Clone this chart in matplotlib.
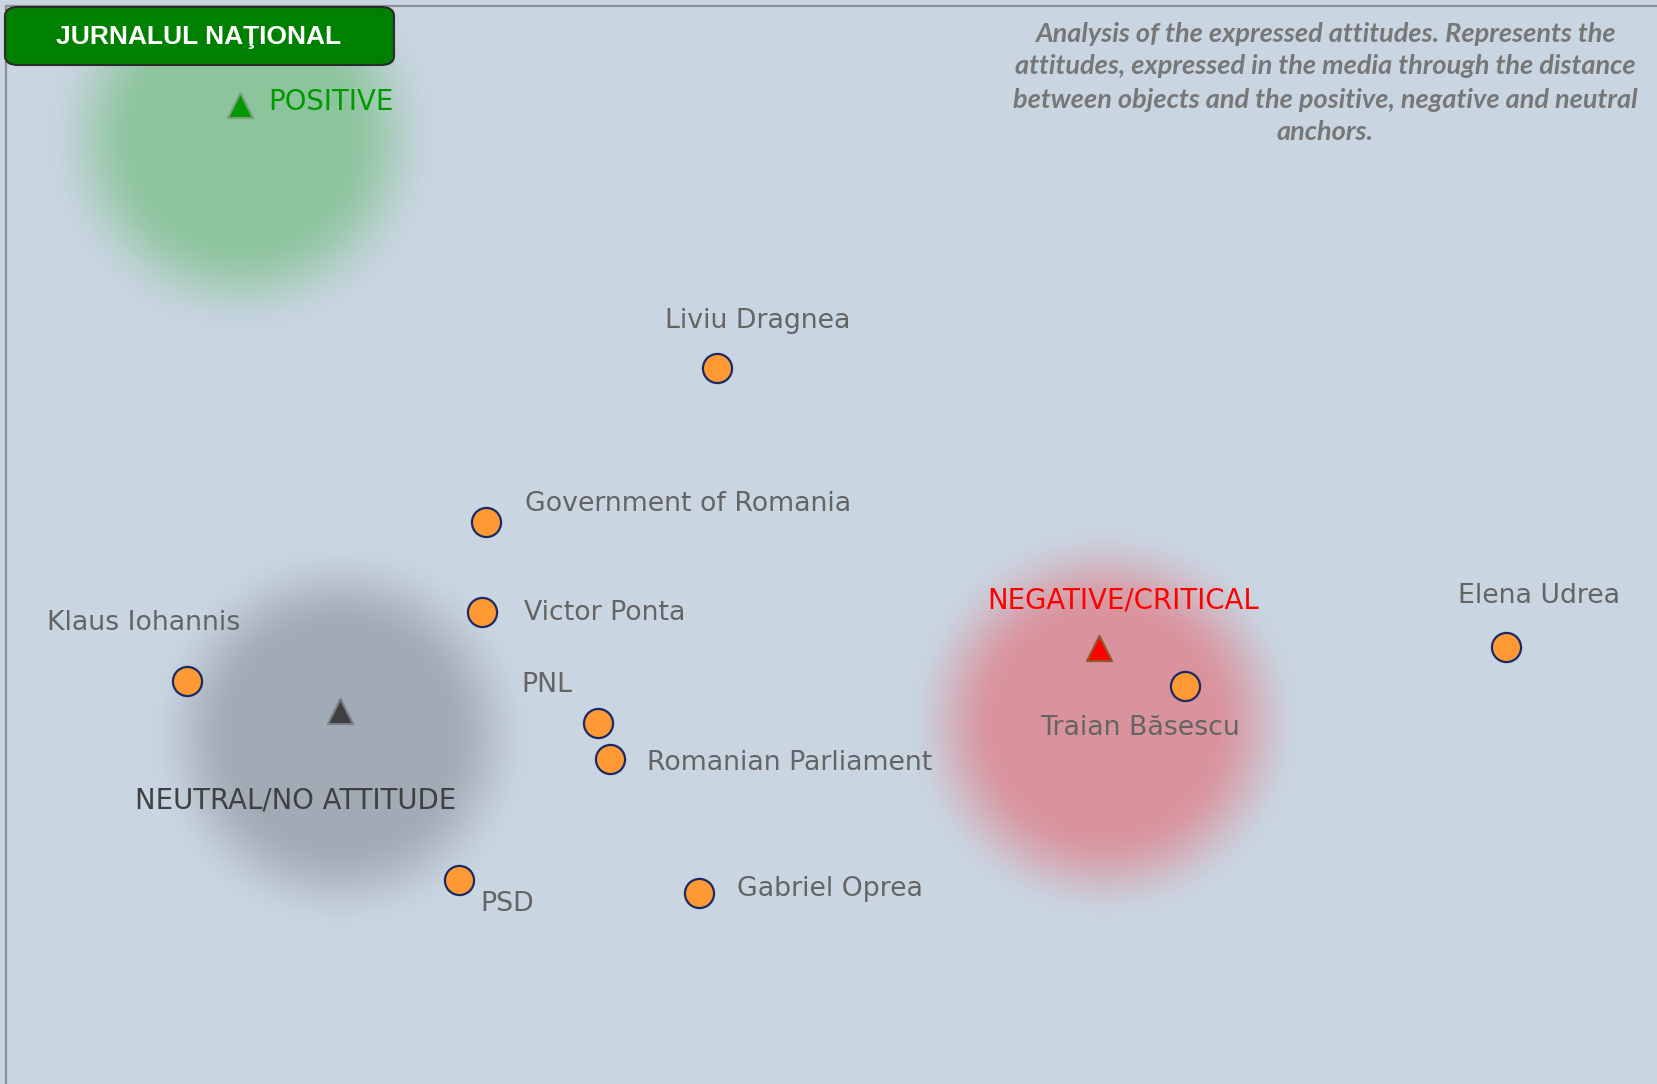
import numpy as np
import matplotlib
matplotlib.use("Agg")
import matplotlib.pyplot as plt
from matplotlib.patches import FancyBboxPatch

# ---- data (MDS map units) ----
names = ["Liviu Dragnea", "Government of Romania", "Victor Ponta", "Klaus Iohannis",
         "PNL", "Romanian Parliament", "PSD", "Gabriel Oprea", "Traian Băsescu", "Elena Udrea"]
x_vals = [43.3, 29.3, 29.1, 11.3, 36.1, 36.8, 27.7, 42.2, 71.5, 90.9]
y_vals = [43.2, 33.9, 28.5, 24.3, 21.8, 19.6, 12.3, 11.5, 24.0, 26.4]

anchor_names = ["POSITIVE", "NEUTRAL/NO ATTITUDE", "NEGATIVE/CRITICAL"]
anchor_x = [14.5, 20.5, 66.3]
anchor_y = [59.1, 22.5, 26.3]

title_text = "JURNALUL NAŢIONAL"
note_text = ("Analysis of the expressed attitudes. Represents the\n"
             "attitudes, expressed in the media through the distance\n"
             "between objects and the positive, negative and neutral\n"
             "anchors.")

# ---- styles / layout ----
W, H = 1657, 1084
PX = 16.57  # pixels per unit
bg = "#c9d5e1"
label_offsets = {  # pixels (dx right, dy up) of label left/center from marker
    "Liviu Dragnea": (-52, 47), "Government of Romania": (39, 18), "Victor Ponta": (42, -1),
    "Klaus Iohannis": (-140, 58), "PNL": (-77, 38), "Romanian Parliament": (37, -4),
    "PSD": (21, -24), "Gabriel Oprea": (38, 4), "Traian Băsescu": (-145, -42),
    "Elena Udrea": (-48, 51),
}
anchor_offsets = [(28, 3), (-205, -89), (-111, 48)]
anchor_face = ["#009900", "#404040", "#ff0000"]
anchor_edge = ["#7f9f7f", "#7a7f88", "#8b5a2b"]
anchor_text = ["#009900", "#404040", "#ff0000"]
blob_color = ["#8cc59c", "#a2abb5", "#da939d"]
blob_shift = [(2, 32), (0, 26), (5, 75)]  # pixels (dx, dy down)
blob_r = [(100, 200), (105, 195), (105, 200)]

fig = plt.figure(figsize=(W / 100, H / 100), dpi=100)
fig.patch.set_facecolor(bg)
ax = fig.add_axes([6 / W, 0, 1 - 6 / W, 1 - 6 / H])
ax.set_facecolor(bg)
ymax = (H - 6) / PX
ax.set_xticks([]); ax.set_yticks([])
for s in ["right", "bottom"]:
    ax.spines[s].set_visible(False)
for s in ["left", "top"]:
    ax.spines[s].set_color("#8a8f96")
    ax.spines[s].set_linewidth(1.5)

# blobs
for i in range(3):
    cx = anchor_x[i] + blob_shift[i][0] / PX
    cy = anchor_y[i] - blob_shift[i][1] / PX
    R = blob_r[i][1] / PX
    n = 300
    gx = np.linspace(cx - R, cx + R, n)
    gy = np.linspace(cy - R, cy + R, n)
    XX, YY = np.meshgrid(gx, gy)
    rr = np.hypot(XX - cx, YY - cy) * PX
    r0, r1 = blob_r[i]
    t = np.clip((rr - r0) / (r1 - r0), 0, 1)
    a = 1 - (3 * t ** 2 - 2 * t ** 3)
    rgba = np.zeros((n, n, 4))
    rgba[..., :3] = matplotlib.colors.to_rgb(blob_color[i])
    rgba[..., 3] = a
    ax.imshow(rgba, extent=[cx - R, cx + R, cy - R, cy + R], origin="lower",
              interpolation="bilinear", zorder=1, aspect="auto")

ax.set_xlim(6 / PX, W / PX)
ax.set_ylim(0, ymax)

# points
ax.scatter(x_vals, y_vals, s=440, c="#ff9933", edgecolors="#1a2a66", linewidths=1.6, zorder=3)
label_color = "#646464"
for nm, xv, yv in zip(names, x_vals, y_vals):
    dx, dy = label_offsets[nm]
    ax.annotate(nm, (xv, yv), xytext=(dx, dy), textcoords="offset pixels",
                ha="left", va="center", fontsize=19.3, color=label_color,
                family="DejaVu Sans", zorder=5)

# anchors
for i in range(3):
    ax.scatter([anchor_x[i]], [anchor_y[i]], marker="^", s=330, c=anchor_face[i],
               edgecolors=anchor_edge[i], linewidths=1.5, zorder=4)
    dx, dy = anchor_offsets[i]
    ax.annotate(anchor_names[i], (anchor_x[i], anchor_y[i]), xytext=(dx, dy),
                textcoords="offset pixels", ha="left", va="center", fontsize=19.8,
                color=anchor_text[i], family="DejaVu Sans", zorder=5)

# title box
box = FancyBboxPatch((5 / W, 1 - 65 / H), 389 / W, 58 / H,
                     boxstyle="round,pad=0,rounding_size=0.008",
                     transform=fig.transFigure, facecolor="#008000",
                     edgecolor="#2b2b2b", linewidth=1.5, zorder=10)
fig.patches.append(box)
fig.text(199 / W, 1 - 37 / H, title_text, ha="center", va="center", color="white",
         fontsize=19, fontweight="bold", family="Liberation Sans", zorder=11)

# note
fig.text(1325 / W, 1 - 83 / H, note_text, ha="center", va="center", color="#777777",
         fontsize=19.5, fontweight="bold", style="italic", family="Lato",
         linespacing=1.45, zorder=11)

fig.savefig("out.png", dpi=100, facecolor=bg)
